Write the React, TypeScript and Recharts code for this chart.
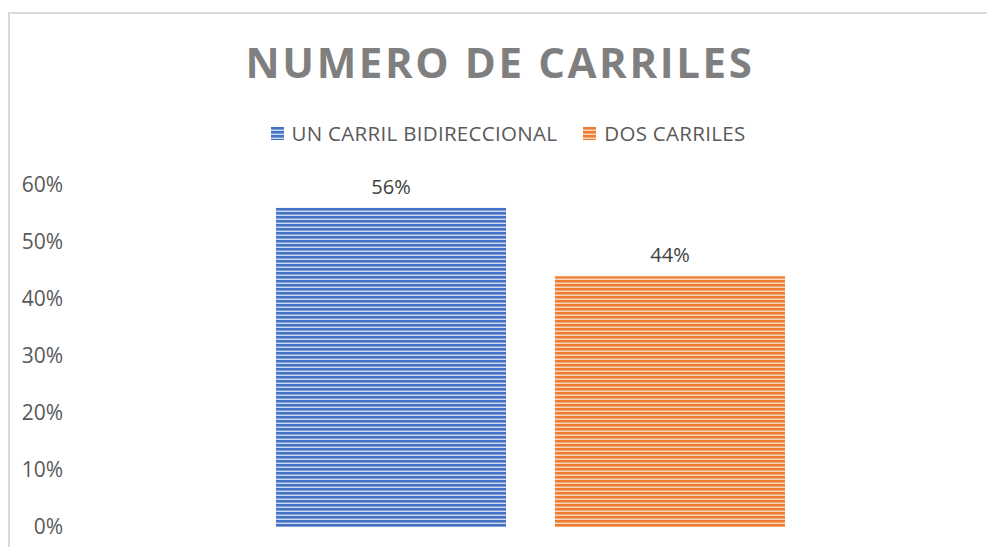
import { BarChart, Bar, XAxis, YAxis, LabelList } from "recharts";

const categories = ["NUMERO DE CARRILES"];
const unCarril = [0.56];
const dosCarriles = [0.44];
const yTicks = [0, 0.1, 0.2, 0.3, 0.4, 0.5, 0.6];

const data = categories.map((name, i) => ({
    name,
    un: unCarril[i],
    dos: dosCarriles[i],
}));

const pct = (v: number) => `${Math.round(v * 100)}%`;
const FONT = "'Open Sans', 'DejaVu Sans', sans-serif";

const legendItems = [
    { label: "UN CARRIL BIDIRECCIONAL", fill: "url(#stripeBlue)" },
    { label: "DOS CARRILES", fill: "url(#stripeOrange)" },
];

// legend drawn as plain html so it doesn't eat into the plot area
const ChartLegend = () => (
    <div
        style={{
            position: "absolute",
            left: 0,
            top: 119,
            width: 1016,
            display: "flex",
            justifyContent: "center",
            gap: 26,
            fontFamily: FONT,
            fontSize: 20.5,
            letterSpacing: 0.3,
            color: "#595959",
        }}
    >
        {legendItems.map((it) => (
            <div key={it.label} style={{ display: "flex", alignItems: "center" }}>
                <svg width={13} height={13} style={{ marginRight: 8 }}>
                    <rect width={13} height={13} fill={it.fill} />
                </svg>
                <span>{it.label}</span>
            </div>
        ))}
    </div>
);

export default function App() {
    return (
        <div
            style={{
                position: "absolute",
                left: 0,
                top: 0,
                width: 987,
                height: 547,
                background: "#fff",
                overflow: "hidden",
            }}
        >
            <svg width={0} height={0} style={{ position: "absolute" }}>
                <defs>
                    <pattern id="stripeBlue" width={4} height={4} patternUnits="userSpaceOnUse">
                        <rect width={4} height={4} fill="#cdd9f0" />
                        <rect y={0} width={4} height={2} fill="#4472c4" />
                        <rect y={2} width={4} height={1} fill="#7f9fd6" />
                    </pattern>
                    <pattern id="stripeOrange" width={4} height={4} patternUnits="userSpaceOnUse">
                        <rect width={4} height={4} fill="#fad6bb" />
                        <rect y={0} width={4} height={2} fill="#ed7d31" />
                        <rect y={2} width={4} height={1} fill="#f3a874" />
                    </pattern>
                </defs>
            </svg>
            <div
                style={{
                    position: "absolute",
                    left: 8,
                    top: 12,
                    width: 1000,
                    height: 600,
                    borderLeft: "2px solid #d9d9d9",
                    borderTop: "2px solid #d9d9d9",
                }}
            />
            <div
                style={{
                    position: "absolute",
                    left: 0,
                    top: 33,
                    width: 1000,
                    textAlign: "center",
                    fontFamily: FONT,
                    fontWeight: 700,
                    fontSize: 42,
                    letterSpacing: 2.6,
                    color: "#7f7f7f",
                }}
            >
                NUMERO DE CARRILES
            </div>
            <ChartLegend />
            <div style={{ position: "absolute", left: 0, top: 0 }}>
                <BarChart
                    width={987}
                    height={547}
                    data={data}
                    margin={{ top: 185, right: 1, bottom: 20, left: 0 }}
                    barGap={49}
                    barSize={230}
                >
                    <XAxis dataKey="name" hide />
                    <YAxis
                        width={75}
                        domain={[0, 0.6]}
                        ticks={yTicks}
                        tickFormatter={pct}
                        axisLine={false}
                        tickLine={false}
                        tickSize={0}
                        tickMargin={12}
                        tick={{ fill: "#595959", fontSize: 21, fontFamily: FONT }}
                    />
                    <Bar dataKey="un" fill="url(#stripeBlue)" isAnimationActive={false}>
                        <LabelList
                            dataKey="un"
                            position="top"
                            offset={14}
                            formatter={(v: any) => pct(Number(v))}
                            fill="#404040"
                            fontSize={20}
                            fontFamily={FONT}
                        />
                    </Bar>
                    <Bar dataKey="dos" fill="url(#stripeOrange)" isAnimationActive={false}>
                        <LabelList
                            dataKey="dos"
                            position="top"
                            offset={14}
                            formatter={(v: any) => pct(Number(v))}
                            fill="#404040"
                            fontSize={20}
                            fontFamily={FONT}
                        />
                    </Bar>
                </BarChart>
            </div>
        </div>
    );
}
